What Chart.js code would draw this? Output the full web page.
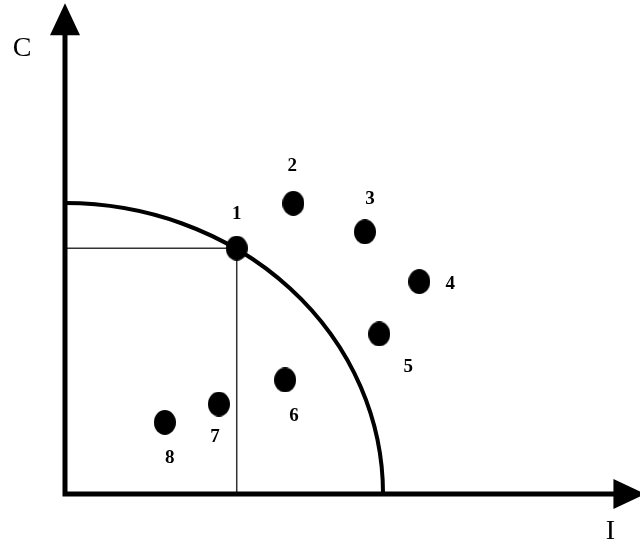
<!DOCTYPE html>
<html>
<head>
<meta charset="utf-8">
<script src="https://cdn.jsdelivr.net/npm/chart.js@4/dist/chart.umd.min.js"></script>
<style>
  html, body { margin: 0; padding: 0; background: #fff; }
</style>
</head>
<body>
<canvas id="grafico" width="640" height="552"></canvas>
<script>
// pontos: I no eixo horizontal, C no eixo vertical
var rotulos = ["1", "2", "3", "4", "5", "6", "7", "8"];
var valoresI = [5.40, 7.18, 9.43, 11.14, 9.88, 6.92, 4.84, 3.14];
var valoresC = [8.45, 9.99, 9.01, 7.30, 5.50, 3.92, 3.09, 2.46];

// fronteira: quarto de elipse com centro na origem
var fronteiraI = 10;
var fronteiraC = 10;

// limites dos eixos e ponta das setas
var limiteI = 18.08;
var limiteC = 16.98;
var pontaI = 18.25;
var pontaC = 16.87;

// deslocamento (px) de cada numero em relacao ao seu ponto
var posRotulos = [
  [0, -34], [-1, -37], [5, -33], [31, 2],
  [29, 33], [9, 36], [-4, 33], [5, 36]
];

// bolinha levemente oval
function criarBolinha() {
  var c = document.createElement("canvas");
  c.width = 22;
  c.height = 25;
  var g = c.getContext("2d");
  g.fillStyle = "#000";
  g.beginPath();
  g.ellipse(11, 12.5, 11, 12.5, 0, 0, Math.PI * 2);
  g.fill();
  return c;
}

var pontos = [];
for (var i = 0; i < rotulos.length; i++) {
  pontos.push({ x: valoresI[i], y: valoresC[i] });
}

var desenhoFundo = {
  id: "desenhoFundo",
  beforeDatasetsDraw: function (chart) {
    var ctx = chart.ctx;
    var xs = chart.scales.x;
    var ys = chart.scales.y;
    var ox = xs.getPixelForValue(0);
    var oy = ys.getPixelForValue(0);
    ctx.save();

    // linhas finas do ponto 1 ate os eixos
    var p1x = xs.getPixelForValue(valoresI[0]);
    var p1y = ys.getPixelForValue(valoresC[0]);
    ctx.strokeStyle = "#333";
    ctx.lineWidth = 1.5;
    ctx.beginPath();
    ctx.moveTo(ox, p1y);
    ctx.lineTo(p1x, p1y);
    ctx.moveTo(p1x, p1y);
    ctx.lineTo(p1x, oy);
    ctx.stroke();

    // fronteira
    ctx.strokeStyle = "#000";
    ctx.lineWidth = 4;
    ctx.beginPath();
    ctx.ellipse(ox, oy,
      xs.getPixelForValue(fronteiraI) - ox,
      oy - ys.getPixelForValue(fronteiraC),
      0, -Math.PI / 2, 0);
    ctx.stroke();

    // eixos
    var tx = xs.getPixelForValue(pontaI);
    var ty = ys.getPixelForValue(pontaC);
    ctx.lineWidth = 5;
    ctx.beginPath();
    ctx.moveTo(ox, oy + 2.5);
    ctx.lineTo(ox, ty + 30);
    ctx.moveTo(ox - 2.5, oy);
    ctx.lineTo(tx - 30, oy);
    ctx.stroke();

    ctx.fillStyle = "#000";
    ctx.beginPath();
    ctx.moveTo(ox, ty);
    ctx.lineTo(ox - 15, ty + 32);
    ctx.lineTo(ox + 15, ty + 32);
    ctx.closePath();
    ctx.fill();
    ctx.beginPath();
    ctx.moveTo(tx, oy);
    ctx.lineTo(tx - 32, oy - 15);
    ctx.lineTo(tx - 32, oy + 15);
    ctx.closePath();
    ctx.fill();

    // nomes dos eixos
    ctx.font = "28px 'Liberation Serif'";
    ctx.textAlign = "center";
    ctx.textBaseline = "middle";
    ctx.fillText("C", ox - 43, ty + 45);
    ctx.fillText("I", tx - 35, oy + 38);
    ctx.restore();
  },
  afterDatasetsDraw: function (chart) {
    var ctx = chart.ctx;
    var meta = chart.getDatasetMeta(0);
    ctx.save();
    ctx.fillStyle = "#000";
    ctx.font = "bold 19px 'Liberation Serif'";
    ctx.textAlign = "center";
    ctx.textBaseline = "middle";
    for (var i = 0; i < meta.data.length; i++) {
      var el = meta.data[i];
      ctx.fillText(rotulos[i], el.x + posRotulos[i][0], el.y + posRotulos[i][1]);
    }
    ctx.restore();
  }
};

var config = {
  type: "scatter",
  data: {
    datasets: [
      {
        label: "pontos",
        data: pontos,
        pointStyle: criarBolinha(),
        backgroundColor: "#000",
        borderColor: "#000",
      },
    ],
  },
  options: {
    responsive: false,
    animation: false,
    events: [],
    layout: {
      autoPadding: false,
      padding: { left: 65, right: 0, top: 0, bottom: 58 },
    },
    plugins: {
      legend: { display: false },
      tooltip: { enabled: false },
    },
    scales: {
      x: { type: "linear", display: false, min: 0, max: limiteI },
      y: { type: "linear", display: false, min: 0, max: limiteC },
    },
  },
  plugins: [desenhoFundo],
};

var grafico = new Chart(document.getElementById("grafico"), config);
</script>
</body>
</html>
